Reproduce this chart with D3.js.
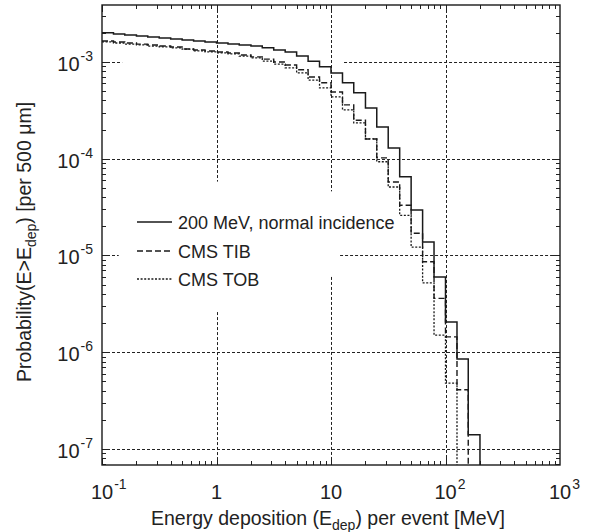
<!DOCTYPE html>
<html><head><meta charset="utf-8">
<script src="https://cdn.jsdelivr.net/npm/d3@7"></script>
<style>
html,body{margin:0;padding:0;background:#fff;}
text{font-family:"Liberation Sans",Arial,sans-serif;fill:#222;}
</style></head>
<body>
<svg id="chart" width="594" height="532"></svg>
<script>
// ---- data ----
const binEdges = [0.1,0.126,0.158,0.2,0.251,0.316,0.398,0.501,0.631,0.794,
  1,1.26,1.58,2,2.51,3.16,3.98,5.01,6.31,7.94,
  10,12.6,15.8,20,25.1,31.6,39.8,50.1,63.1,79.4,
  100,126,158,200];
const seriesNames = ["200 MeV, normal incidence","CMS TIB","CMS TOB"];
const normalIncidence = [2.00e-3,1.95e-3,1.90e-3,1.86e-3,1.81e-3,1.77e-3,1.73e-3,1.69e-3,1.65e-3,1.61e-3,
  1.57e-3,1.53e-3,1.50e-3,1.46e-3,1.40e-3,1.33e-3,1.27e-3,1.15e-3,1.02e-3,8.9e-4,
  7.7e-4,6.1e-4,4.8e-4,3.35e-4,2.13e-4,1.29e-4,6.5e-5,2.95e-5,1.38e-5,6.0e-6,2.05e-6,8.5e-7,1.4e-7];
const cmsTIB = [1.65e-3,1.61e-3,1.57e-3,1.53e-3,1.50e-3,1.46e-3,1.43e-3,1.36e-3,1.33e-3,1.30e-3,
  1.27e-3,1.24e-3,1.18e-3,1.13e-3,1.07e-3,1.0e-3,9.3e-4,8.3e-4,7.0e-4,6.1e-4,
  4.9e-4,3.6e-4,2.5e-4,1.6e-4,1.02e-4,5.75e-5,3.3e-5,1.7e-5,8.6e-6,3.6e-6,1.44e-6,4.1e-7];
const cmsTOB = [1.61e-3,1.57e-3,1.53e-3,1.50e-3,1.46e-3,1.43e-3,1.40e-3,1.36e-3,1.30e-3,1.27e-3,
  1.24e-3,1.21e-3,1.15e-3,1.10e-3,1.02e-3,9.5e-4,8.7e-4,7.7e-4,6.5e-4,5.4e-4,
  4.35e-4,3.2e-4,2.35e-4,1.6e-4,9.3e-5,5.1e-5,2.6e-5,1.22e-5,5.2e-6,1.5e-6,4.8e-7];
const xTickValues = [0.1,1,10,100,1000];
const xTickLabels = [["10","-1"],["1",""],["10",""],["10","2"],["10","3"]];
const yTickValues = [1e-3,1e-4,1e-5,1e-6,1e-7];
const yTickLabels = [["10","-3"],["10","-4"],["10","-5"],["10","-6"],["10","-7"]];
// grid lines with the gaps seen in the reference (data units)
const hGrid = [
  {v:1e-3, spans:[[0.1,0.15],[13,1000]]},
  {v:1e-4, spans:[[0.1,1000]]},
  {v:1e-5, spans:[[0.1,0.14],[12,1000]]},
  {v:1e-6, spans:[[0.1,1000]]},
  {v:1e-7, spans:[[0.1,1000]]}];
const vGrid = [
  {v:1, spans:[["top",5.8e-5],[2.6e-6,"bottom"]]},
  {v:10, spans:[["top",4.6e-5],[6e-6,"bottom"]]},
  {v:100, spans:[["top","bottom"]]}];

// ---- layout ----
const L=102, R=560, T=5, B=465;
const svg = d3.select("#chart");
const x = d3.scaleLog().domain([0.1,1000]).range([L,R]);
const y = d3.scaleLog().domain([6.83e-8,3.88e-3]).range([B,T]);
const yv = v => v==="top"?T:(v==="bottom"?B:y(v));

// grid
const g = svg.append("g").attr("stroke","#222").attr("stroke-width",1).attr("stroke-dasharray","3,2").attr("fill","none");
hGrid.forEach(h=>h.spans.forEach(s=>{
  g.append("line").attr("x1",x(s[0])).attr("x2",x(s[1])).attr("y1",Math.round(y(h.v))+0.5).attr("y2",Math.round(y(h.v))+0.5);
}));
vGrid.forEach(h=>h.spans.forEach(s=>{
  g.append("line").attr("y1",yv(s[0])).attr("y2",yv(s[1])).attr("x1",Math.round(x(h.v))+0.5).attr("x2",Math.round(x(h.v))+0.5);
}));

// minor/major ticks inward on all sides
const tk = svg.append("g").attr("stroke","#222").attr("stroke-width",1);
for(let d=-1; d<3; d++){
  for(let m=1;m<10;m++){
    const v=m*Math.pow(10,d); const px=Math.round(x(v))+0.5; const len = m===1?7:4;
    tk.append("line").attr("x1",px).attr("x2",px).attr("y1",B).attr("y2",B-len);
    tk.append("line").attr("x1",px).attr("x2",px).attr("y1",T).attr("y2",T+len);
  }
}
for(let d=-8; d<-2; d++){
  for(let m=1;m<10;m++){
    const v=m*Math.pow(10,d); if(v<y.domain()[0]||v>y.domain()[1]) continue;
    const py=Math.round(y(v))+0.5; const len = m===1?7:4;
    tk.append("line").attr("x1",L).attr("x2",L+len).attr("y1",py).attr("y2",py);
    tk.append("line").attr("x1",R).attr("x2",R-len).attr("y1",py).attr("y2",py);
  }
}

// curves
const line = d3.line().x(d=>x(d[0])).y(d=>typeof d[1]==="string"?B:y(d[1])).curve(d3.curveStepAfter);
function pts(vals){
  const p = vals.map((v,i)=>[binEdges[i],v]);
  p.push([binEdges[vals.length],"bottom"]);
  return p;
}
const styles = [
  {data:normalIncidence, dash:null, w:1.5},
  {data:cmsTIB, dash:"6,3", w:1.4},
  {data:cmsTOB, dash:"2,1.6", w:1.3}];
styles.forEach(s=>{
  svg.append("path").attr("d",line(pts(s.data))).attr("fill","none").attr("stroke","#1a1a1a")
    .attr("stroke-width",s.w).attr("stroke-dasharray",s.dash);
});

// frame
svg.append("rect").attr("x",L).attr("y",T).attr("width",R-L).attr("height",B-T)
  .attr("fill","none").attr("stroke","#1a1a1a").attr("stroke-width",1.4);

// x tick labels
xTickValues.forEach((v,i)=>{
  const [base,sup]=xTickLabels[i];
  const t = svg.append("text").attr("font-size",20).attr("y",499).text(base);
  const w = t.node().getComputedTextLength();
  t.attr("x",x(v)-w/2);
  if(sup) svg.append("text").attr("font-size",14).attr("x",x(v)+w/2+1).attr("y",489).text(sup);
});
// y tick labels
yTickValues.forEach((v,i)=>{
  const [base,sup]=yTickLabels[i];
  const s = svg.append("text").attr("font-size",14).attr("text-anchor","end").attr("x",93).attr("y",y(v)-1).text(sup);
  const ws = s.node().getComputedTextLength();
  svg.append("text").attr("font-size",20).attr("text-anchor","end").attr("x",93-ws-1).attr("y",y(v)+9).text(base);
});

// axis titles
const xt = svg.append("text").attr("font-size",19.5).attr("text-anchor","middle").attr("x",328).attr("y",525);
xt.append("tspan").text("Energy deposition (E");
xt.append("tspan").attr("font-size",14).attr("dy",5).text("dep");
xt.append("tspan").attr("dy",-5).text(") per event [MeV]");
const yt = svg.append("text").attr("font-size",19.5).attr("text-anchor","middle")
  .attr("transform","translate(31,242) rotate(-90)");
yt.append("tspan").text("Probability(E>E");
yt.append("tspan").attr("font-size",14).attr("dy",5).text("dep");
yt.append("tspan").attr("dy",-5).text(") [per 500 μm]");

// legend
const legY=[222,251,279];
styles.forEach((s,i)=>{
  svg.append("line").attr("x1",137).attr("x2",172).attr("y1",legY[i]).attr("y2",legY[i])
    .attr("stroke","#1a1a1a").attr("stroke-width",s.w).attr("stroke-dasharray",s.dash);
  svg.append("text").attr("font-size",18).attr("x",178).attr("y",legY[i]+6.5).text(seriesNames[i]);
});
</script>
</body></html>
